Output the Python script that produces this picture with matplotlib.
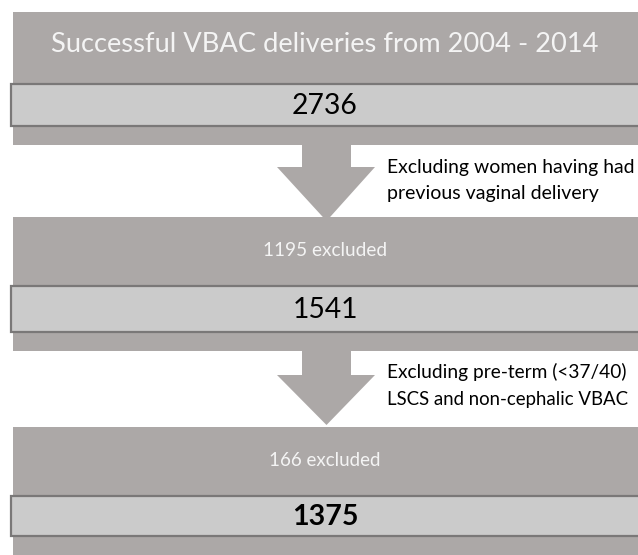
import matplotlib
matplotlib.use("Agg")
import matplotlib.pyplot as plt
from matplotlib.patches import Rectangle, Polygon

# Dados do fluxograma
title = "Successful VBAC deliveries from 2004 - 2014"
counts = [2736, 1541, 1375]
excluded = [1195, 166]
reasons = [
    ["Excluding women having had", "previous vaginal delivery"],
    ["Excluding pre-term (<37/40)", "LSCS and non-cephalic VBAC"],
]

# Cores
DARK = "#aca8a7"
LIGHT = "#cbcbcb"
EDGE = "#7a7878"
WHITE_TXT = "#f4f4f4"

W, H = 638, 555
fig = plt.figure(figsize=(W / 100, H / 100), dpi=100)
ax = fig.add_axes([0, 0, 1, 1])
ax.set_xlim(0, W)
ax.set_ylim(H, 0)
ax.axis("off")
renderer = fig.canvas.get_renderer()
FONT = "Lato"


def put_text(x, y, s, width_px, ha="center", **kw):
    # ajusta o tamanho da fonte para a largura medida na imagem
    t = ax.text(x, y, s, ha=ha, va="center", family=FONT, fontsize=10, **kw)
    w = t.get_window_extent(renderer).width
    t.set_fontsize(10 * width_px / w)
    return t


# caixas: (topo escuro, base escura, topo claro, base clara, y texto de cima)
boxes = [(12, 145, 84, 126, 45), (217, 351, 286, 332, 250), (427, 560, 496, 536, 460)]
cx = 325

for i, (d0, d1, l0, l1, ty) in enumerate(boxes):
    ax.add_patch(Rectangle((12.7, d0), W, d1 - d0, facecolor=DARK, edgecolor="none"))
    ax.add_patch(Rectangle((11, l0), W, l1 - l0, facecolor=LIGHT, edgecolor=EDGE, lw=1.6))
    if i == 0:
        put_text(cx, ty, title, 548, color=WHITE_TXT)
    else:
        n = excluded[i - 1]
        put_text(cx, ty, f"{n} excluded", 124 if n >= 1000 else 112, color=WHITE_TXT)
    put_text(cx, (l0 + l1) / 2 + 1, str(counts[i]), 66, color="black",
             fontweight="bold" if i == 2 else "normal")

# setas: (inicio haste, base triangulo, ponta)
arrows = [(145, 167, 221), (351, 375, 425)]
for j, (a0, a1, a2) in enumerate(arrows):
    pts = [(302, a0), (351, a0), (351, a1), (375, a1), (326.5, a2),
           (277, a1), (302, a1)]
    ax.add_patch(Polygon(pts, closed=True, facecolor=DARK, edgecolor="none"))
    l1, l2 = reasons[j]
    widths = [(246, 212), (240, 241)][j]
    ys = [(167, 193), (372, 399)][j]
    put_text(387, ys[0], l1, widths[0], ha="left", color="black")
    put_text(387, ys[1], l2, widths[1], ha="left", color="black")

fig.savefig("out.png", dpi=100)
